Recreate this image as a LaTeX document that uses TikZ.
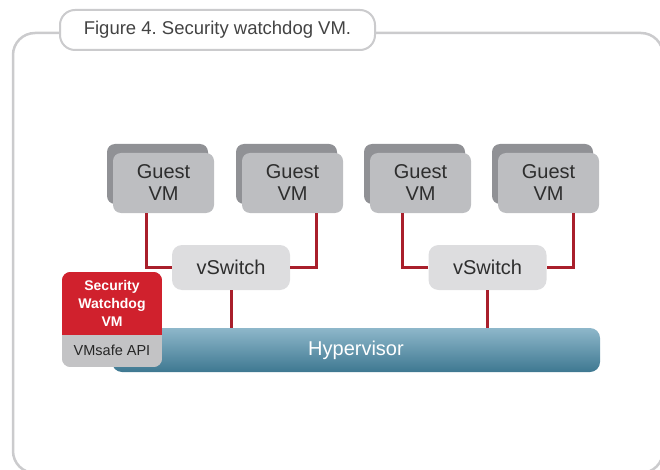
\documentclass[tikz,border=0pt]{standalone}
\usepackage{fontspec}
\setmainfont{Liberation Sans}
\definecolor{frameGray}{HTML}{CBCBCD}
\definecolor{vmBack}{HTML}{909195}
\definecolor{vmFront}{HTML}{BDBEC1}
\definecolor{switchGray}{HTML}{DDDDDF}
\definecolor{wireRed}{HTML}{A91F2B}
\definecolor{secRed}{HTML}{D0212D}
\definecolor{apiGray}{HTML}{C3C3C5}
\definecolor{hypTop}{HTML}{8EB7CA}
\definecolor{hypBot}{HTML}{3E7891}
\definecolor{txtGray}{HTML}{2E2E2E}
\begin{document}
\begin{tikzpicture}[x=1pt,y=-1pt,
  vmback/.style={rectangle, rounded corners=8pt, fill=vmBack,
    minimum width=101pt, minimum height=60pt, inner sep=0pt},
  vmfront/.style={rectangle, rounded corners=8pt, fill=vmFront,
    minimum width=101pt, minimum height=60pt, inner sep=0pt,
    text=txtGray, align=center, font=\fontsize{20}{22}\selectfont},
  switchbox/.style={rectangle, rounded corners=10pt, fill=switchGray,
    minimum width=118pt, minimum height=45pt, inner sep=0pt,
    text=txtGray, font=\fontsize{20}{22}\selectfont},
  wire/.style={draw=wireRed, line width=3pt},
  hyperbar/.style={rectangle, rounded corners=10pt, top color=hypTop,
    bottom color=hypBot, minimum width=488pt, minimum height=44pt,
    inner sep=0pt, text=white, font=\fontsize{20}{22}\selectfont},
  titlebox/.style={rectangle, rounded corners=15pt, fill=white,
    draw=frameGray, line width=2pt, minimum width=315pt,
    minimum height=40pt, inner sep=0pt, text=txtGray!90,
    font=\fontsize{18.5}{20}\selectfont}
]
\useasboundingbox (0,0) rectangle (660,470);

% outer panel
\draw[frameGray, line width=2.5pt, rounded corners=22pt] (13,33) rectangle (663,473);
\node[titlebox] (title) at (217.5,30) {Figure 4.\ Security watchdog VM.};

% guest VMs (stacked pairs)
\foreach \i/\x in {1/163.5, 2/292.5, 3/420.5, 4/548.5} {
  \node[vmback] (back\i) at (\x-6,174) {};
  \node[vmfront] (vm\i) at (\x,183) {Guest\\VM};
}

% virtual switches
\node[switchbox] (sw1) at (231,267.5) {vSwitch};
\node[switchbox] (sw2) at (487.5,267.5) {vSwitch};

% hypervisor
\node[hyperbar] (hyp) at (356,350) {Hypervisor};

% links
\draw[wire] ([xshift=34pt]vm1.south west) |- (sw1.west);
\draw[wire] ([xshift=-27pt]vm2.south east) |- (sw1.east);
\draw[wire] ([xshift=33pt]vm3.south west) |- (sw2.west);
\draw[wire] ([xshift=-26pt]vm4.south east) |- (sw2.east);
\draw[wire] (sw1.south) -- (sw1.south |- hyp.north);
\draw[wire] (sw2.south) -- (sw2.south |- hyp.north);

% security watchdog VM with its API strip
\node[rectangle, minimum width=100pt, minimum height=95pt, inner sep=0pt] (sec) at (112,319.5) {};
\begin{scope}
  \clip[rounded corners=9pt] (sec.north west) rectangle (sec.south east);
  \fill[secRed] (sec.north west) rectangle ([yshift=32pt]sec.south east);
  \fill[apiGray] ([yshift=32pt]sec.south west) rectangle (sec.south east);
\end{scope}
\node[text=white, align=center, font=\bfseries\fontsize{14}{18}\selectfont] (secname) at (112,303.5) {Security\\Watchdog\\VM};
\node[text=black!85, font=\fontsize{14.5}{16}\selectfont] (api) at (112,350) {VMsafe API};
\end{tikzpicture}
\end{document}
